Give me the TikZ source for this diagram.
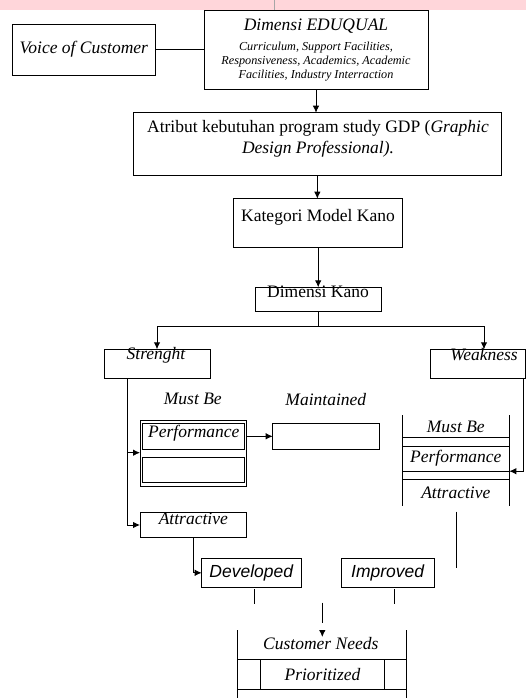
\documentclass[tikz,border=0pt]{standalone}
\usepackage{fontspec}
\setmainfont{Liberation Serif}
\setsansfont{Liberation Sans}
\usetikzlibrary{arrows.meta}
\definecolor{pinkband}{RGB}{255,214,218}
\tikzset{
  box/.style={draw, line width=0.9pt, inner sep=0pt, outer sep=0pt, anchor=north west},
  conn/.style={line width=0.9pt},
  arr/.style={line width=0.9pt, -{Latex[length=7pt,width=6.5pt]}},
  lbl/.style={inner sep=0pt, font=\fontsize{17.5}{20}\selectfont\itshape},
  upl/.style={inner sep=0pt, font=\fontsize{17.5}{21}\selectfont},
  sml/.style={inner sep=0pt, align=center, font=\fontsize{12.2}{14}\selectfont\itshape},
  sfl/.style={inner sep=0pt, font=\fontsize{17.5}{20}\selectfont\sffamily\itshape},
}
\newcommand\boxnode[5]{\node[box, minimum width={#4-#2}, minimum height={#5-#3}] (#1) at (#2,#3) {};}
\begin{document}
\begin{tikzpicture}[x=1pt,y=-1pt]
\useasboundingbox (0,0) rectangle (526,698);
\fill[pinkband] (0,0) rectangle (526,10);
\draw[gray!70, line width=0.8pt] (274,0) -- (274,10);

% boxes
\boxnode{voc}{12.3}{24.3}{155.3}{75.3}
\boxnode{edu}{204}{10.3}{428}{89.3}
\boxnode{atr}{133}{112.7}{501.7}{175}
\boxnode{kat}{233.7}{198.7}{402.7}{247}
\boxnode{dk}{255.7}{287.3}{381.7}{311}
\boxnode{str}{104}{349.3}{210}{378.7}
\boxnode{weak}{430.7}{349.3}{525.6}{378.7}
\boxnode{ltab}{140}{420}{246}{486.7}
\boxnode{lcellA}{142}{423.3}{244.3}{449.3}
\boxnode{lcellB}{142}{457.7}{244.3}{482.7}
\boxnode{maint}{272.7}{423.3}{379.3}{449.3}
\boxnode{attr}{140}{512.3}{246}{537.7}
\boxnode{dev}{201.7}{558.3}{301}{587.3}
\boxnode{imp}{341}{558.3}{434.3}{587.3}

% right table (weakness)
\draw[conn] (402.7,415) -- (402.7,506) (509.3,415) -- (509.3,506);
\foreach \yy in {437.7,446,471.2,479}{\draw[conn] (402.7,\yy) -- (509.3,\yy);}

% customer needs table
\draw[conn] (237.3,630) -- (237.3,698) (406.7,630) -- (406.7,698);
\draw[conn] (237.3,659.3) -- (406.7,659.3) (237.3,689.3) -- (406.7,689.3);
\draw[conn] (260.7,659.3) -- (260.7,689.3) (384,659.3) -- (384,689.3);

% texts
\node[lbl] (tvoc) at (83.8,49.7) {Voice of Customer};
\node[lbl] (tedu) at (316,25.8) {Dimensi EDUQUAL};
\node[sml] (tedus) at (316,61.7) {Curriculum, Support Facilities,\\Responsiveness, Academics, Academic\\Facilities, Industry Interraction};
\node[upl, align=center] (tatr) at (318,138.8) {Atribut kebutuhan program study GDP (\textit{Graphic}\\\textit{Design Professional).}};
\node[upl] (tkat) at (318,217.3) {Kategori Model Kano};
\node[upl] (tdk) at (318,291.7) {Dimensi Kano};
\node[lbl] (tstr) at (156,355) {Strenght};
\node[lbl] (tweak) at (484,355) {Weakness};
\node[lbl] (tmb) at (192.8,399.3) {Must Be};
\node[lbl] (tmt) at (325.8,399.3) {Maintained};
\node[lbl] (tperf) at (193.8,433.3) {Performance};
\node[lbl] (trmb) at (455.8,426.5) {Must Be};
\node[lbl] (trperf) at (455.8,458.3) {Performance};
\node[lbl] (tratt) at (455.8,492.3) {Attractive};
\node[lbl] (tattr) at (193.3,518.3) {Attractive};
\node[sfl] (tdev) at (251.3,572.8) {Developed};
\node[sfl] (timp) at (387.7,572.8) {Improved};
\node[lbl] (tcn) at (320.8,643.3) {Customer Needs};
\node[lbl] (tpr) at (322.5,675) {Prioritized};

% connectors
\draw[conn] (voc.east) -- (edu.west |- voc.east);
\draw[arr] (edu.south) -- (edu.south |- atr.north);
\draw[arr] (atr.south) -- (atr.south |- kat.north);
\draw[arr] (kat.south) -- (kat.south |- dk.north);
\coordinate (split) at (318.3,326.7);
\coordinate (wk) at (484,349.3);
\draw[conn] (dk.south) -- (dk.south |- split);
\draw[arr] (dk.south |- split) -| (str.north);
\draw[arr] (dk.south |- split) -| (wk);

\coordinate (sdown) at (127.3,525);
\coordinate (sm) at (127.3,452.7);
\draw[conn] (str.south -| sdown) -- (sdown);
\draw[arr] (sdown) -- (attr.west);
\draw[arr] (sm) -- (ltab.west |- sm);
\draw[arr] (ltab.east |- maint.west) -- (maint.west);

\coordinate (wr) at (523.3,471.2);
\coordinate (rtab) at (509.3,471.2);
\draw[arr] (weak.south -| wr) -- (wr) -- (rtab);

\draw[arr] (attr.south) |- (dev.west);

% free line segments
\coordinate (f1a) at (456.7,511.7); \coordinate (f1b) at (456.7,568.3);
\coordinate (f2a) at (254.3,589);   \coordinate (f2b) at (254.3,604);
\coordinate (f3a) at (394.3,589);   \coordinate (f3b) at (394.3,604);
\coordinate (f4a) at (322.3,602.7); \coordinate (f4b) at (322.3,622.7);
\coordinate (f5a) at (322.3,630);   \coordinate (f5b) at (322.3,637);
\draw[conn] (f1a) -- (f1b);
\draw[conn] (f2a) -- (f2b);
\draw[conn] (f3a) -- (f3b);
\draw[conn] (f4a) -- (f4b);
\draw[arr] (f5a) -- (f5b);
\end{tikzpicture}
\end{document}
